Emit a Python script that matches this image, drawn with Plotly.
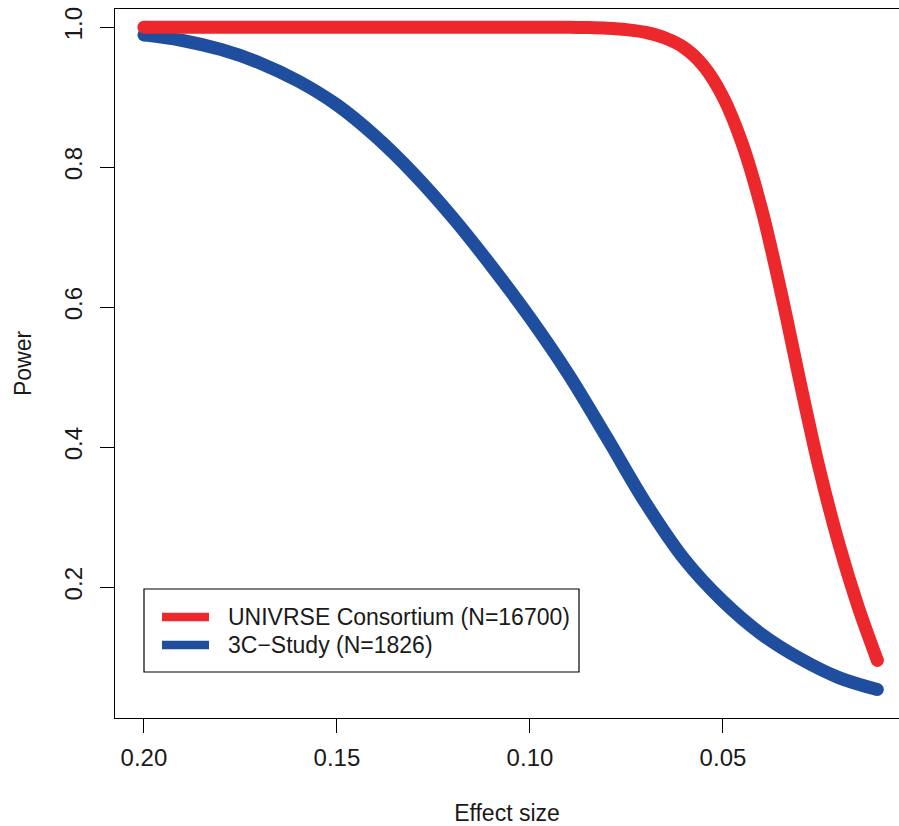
import plotly.graph_objects as go

# Power curves by effect size for two sample sizes
effect_3c = [0.20, 0.19, 0.18, 0.17, 0.16, 0.15, 0.14, 0.13, 0.12, 0.11,
             0.10, 0.09, 0.08, 0.07, 0.06, 0.05, 0.04, 0.03, 0.02, 0.01]
power_3c = [0.989, 0.981, 0.968, 0.949, 0.923, 0.889, 0.844, 0.790, 0.728, 0.659,
            0.585, 0.504, 0.413, 0.320, 0.240, 0.180, 0.133, 0.098, 0.071, 0.054]

effect_univrse = [0.20, 0.19, 0.18, 0.17, 0.16, 0.15, 0.14, 0.13, 0.12, 0.11,
                  0.10, 0.09, 0.085, 0.08, 0.075, 0.07, 0.065, 0.06, 0.055, 0.05,
                  0.045, 0.04, 0.035, 0.03, 0.025, 0.02, 0.015, 0.01]
power_univrse = [1.000, 1.000, 1.000, 1.000, 1.000, 1.000, 1.000, 1.000, 1.000, 1.000,
                 1.000, 1.000, 0.9995, 0.9985, 0.9965, 0.9925, 0.9845, 0.9705, 0.9445, 0.9005,
                 0.8335, 0.7405, 0.6225, 0.4925, 0.3685, 0.2625, 0.1725, 0.0955]

series = [
    ("3C\u2212Study (N=1826)", effect_3c, power_3c, "#1F4E9E"),
    ("UNIVRSE Consortium (N=16700)", effect_univrse, power_univrse, "#EC282D"),
]
legend_order = [1, 0]

x_ticks = [0.20, 0.15, 0.10, 0.05]
y_ticks = [0.2, 0.4, 0.6, 0.8, 1.0]

W, H = 899, 826
ML, MT, MB, MR = 115, 9, 108, 0
PW, PH = W - ML - MR, H - MT - MB

FONT = "Liberation Sans, Arial, sans-serif"
TXT = "#1a1a1a"


def px_x(p):
    return (p - ML) / PW


def px_y(p):
    return (H - MB - p) / PH


fig = go.Figure()
for name, xs, ys, col in series:
    fig.add_trace(go.Scatter(
        x=xs, y=ys, mode="lines", name=name,
        line=dict(color=col, width=13, shape="spline", smoothing=1),
        showlegend=False, hoverinfo="skip"))
    # rounded ends of the thick curve
    fig.add_trace(go.Scatter(
        x=[xs[0], xs[-1]], y=[ys[0], ys[-1]], mode="markers",
        marker=dict(color=col, size=13, line=dict(width=0)),
        showlegend=False, hoverinfo="skip"))

# legend box
shapes = [dict(type="rect", xref="paper", yref="paper",
               x0=px_x(144), x1=px_x(579), y0=px_y(672), y1=px_y(589),
               line=dict(color="black", width=1.2), fillcolor="white", layer="above")]
annotations = []
row_y = [617, 645]
for i, idx in enumerate(legend_order):
    name, xs, ys, col = series[idx]
    shapes.append(dict(type="line", xref="paper", yref="paper",
                       x0=px_x(162), x1=px_x(209), y0=px_y(row_y[i]), y1=px_y(row_y[i]),
                       line=dict(color=col, width=8.5), layer="above"))
    annotations.append(dict(xref="paper", yref="paper", x=px_x(226), y=px_y(row_y[i]),
                            text=name, showarrow=False, xanchor="left", yanchor="middle",
                            font=dict(family=FONT, size=23, color=TXT)))

fig.update_layout(
    width=W, height=H,
    margin=dict(l=ML, r=MR, t=MT, b=MB, pad=0),
    paper_bgcolor="white", plot_bgcolor="white",
    font=dict(family=FONT, size=23, color=TXT),
    shapes=shapes, annotations=annotations,
    showlegend=False,
)
fig.update_xaxes(
    range=[0.2075, 0.0044], tickvals=x_ticks, tickformat=".2f",
    ticks="outside", ticklen=14, tickwidth=1.2, tickcolor="black",
    showline=True, linecolor="black", linewidth=1.2, mirror=True,
    showgrid=False, zeroline=False, ticklabelstandoff=4,
    tickfont=dict(family=FONT, size=24, color=TXT),
    title=dict(text="Effect size", font=dict(family=FONT, size=23, color=TXT), standoff=35),
)
fig.update_yaxes(
    range=[0.0133, 1.026], tickvals=y_ticks, tickformat=".1f",
    ticks="outside", ticklen=14, tickwidth=1.2, tickcolor="black",
    showline=True, linecolor="black", linewidth=1.2, mirror=False,
    showgrid=False, zeroline=False, tickangle=-90, ticklabelstandoff=8,
    tickfont=dict(family=FONT, size=24, color=TXT),
    title=dict(text="Power", font=dict(family=FONT, size=23, color=TXT), standoff=22),
)

fig.write_html("out.html")
